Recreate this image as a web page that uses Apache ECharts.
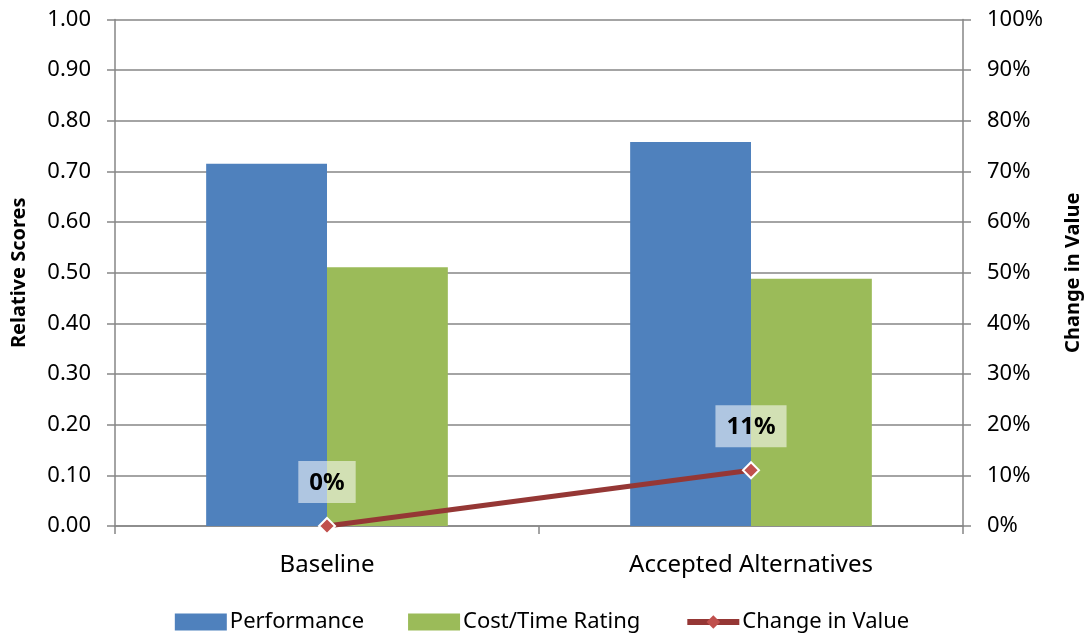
<!DOCTYPE html>
<html>
<head>
<meta charset="utf-8">
<script src="https://cdn.jsdelivr.net/npm/echarts@6/dist/echarts.min.js"></script>
<style>
  html, body { margin: 0; padding: 0; background: #fff; }
  #chart { width: 1084px; height: 637px; }
</style>
</head>
<body>
<div id="chart"></div>
<script>
// Scores per scenario, plus the relative change in value
const categories = ['Baseline', 'Accepted Alternatives'];
const performance = [0.715, 0.758];
const costTimeRating = [0.511, 0.488];
const changeInValue = [0.00, 0.11];
const scoreTicks = ['0.00', '0.10', '0.20', '0.30', '0.40', '0.50', '0.60', '0.70', '0.80', '0.90', '1.00'];
const percentTicks = ['0%', '10%', '20%', '30%', '40%', '50%', '60%', '70%', '80%', '90%', '100%'];

const FONT = '"Noto Sans", "Open Sans", sans-serif';
const axisGray = '#868686';

const chart = echarts.init(document.getElementById('chart'), null, { renderer: 'canvas' });

chart.setOption({
  animation: false,
  textStyle: { fontFamily: FONT, color: '#000' },
  grid: { left: 115, right: 121, top: 19.5, bottom: 111, containLabel: false, outerBoundsMode: 'none' },
  legend: {
    top: 606,
    left: 'center',
    itemWidth: 52,
    itemHeight: 17,
    itemGap: 44,
    textStyle: { fontFamily: FONT, fontSize: 22, color: '#000', padding: [0, 0, 0, -2] },
    data: [
      { name: 'Performance', icon: 'rect' },
      { name: 'Cost/Time Rating', icon: 'rect' },
      {
        name: 'Change in Value',
        itemStyle: { color: '#C0504D', borderColor: '#fff', borderWidth: 0 },
        lineStyle: { color: '#953735', width: 6 }
      }
    ]
  },
  xAxis: {
    type: 'category',
    data: categories,
    axisLine: { lineStyle: { color: axisGray, width: 1.5 } },
    axisTick: { show: true, length: 8, alignWithLabel: false, lineStyle: { color: axisGray, width: 1.5 } },
    axisLabel: { fontFamily: FONT, fontSize: 24, color: '#000', margin: 27 }
  },
  yAxis: [
    {
      type: 'value',
      min: 0,
      max: 1,
      interval: 0.1,
      name: 'Relative Scores',
      nameLocation: 'middle',
      nameRotate: 90,
      nameGap: 86,
      nameTextStyle: { fontFamily: FONT, fontSize: 20, fontWeight: 'bold', color: '#000' },
      axisLine: { show: true, lineStyle: { color: axisGray, width: 1.5 } },
      axisTick: { show: true, length: 8, lineStyle: { color: axisGray, width: 1.5 } },
      splitLine: { show: true, lineStyle: { color: axisGray, width: 1.5 } },
      axisLabel: {
        fontFamily: FONT, fontSize: 22, color: '#000', margin: 24,
        formatter: (v) => scoreTicks[Math.round(v * 10)]
      }
    },
    {
      type: 'value',
      min: 0,
      max: 1,
      interval: 0.1,
      position: 'right',
      name: 'Change in Value',
      nameLocation: 'middle',
      nameRotate: 90,
      nameGap: 100,
      nameTextStyle: { fontFamily: FONT, fontSize: 20, fontWeight: 'bold', color: '#000' },
      axisLine: { show: true, lineStyle: { color: axisGray, width: 1.5 } },
      axisTick: { show: true, length: 8, lineStyle: { color: axisGray, width: 1.5 } },
      splitLine: { show: false },
      axisLabel: {
        fontFamily: FONT, fontSize: 22, color: '#000', margin: 24,
        formatter: (v) => percentTicks[Math.round(v * 10)]
      }
    }
  ],
  series: [
    {
      name: 'Performance',
      type: 'bar',
      yAxisIndex: 0,
      data: performance,
      barGap: '0%',
      barCategoryGap: '43%',
      itemStyle: { color: '#4F81BD' }
    },
    {
      name: 'Cost/Time Rating',
      type: 'bar',
      yAxisIndex: 0,
      data: costTimeRating,
      barGap: '0%',
      barCategoryGap: '43%',
      itemStyle: { color: '#9BBB59' }
    },
    {
      name: 'Change in Value',
      type: 'line',
      yAxisIndex: 1,
      data: changeInValue,
      z: 5,
      symbol: 'diamond',
      symbolSize: 16,
      lineStyle: { color: '#953735', width: 5 },
      itemStyle: { color: '#C0504D', borderColor: '#fff', borderWidth: 2 },
      label: {
        show: true,
        position: 'top',
        distance: 14,
        fontFamily: FONT,
        fontSize: 24,
        fontWeight: 'bold',
        color: '#000',
        backgroundColor: 'rgba(255,255,255,0.55)',
        padding: [10, 11, 8, 11],
        formatter: (p) => Math.round(p.value * 100) + '%'
      }
    }
  ]
});
</script>
</body>
</html>
